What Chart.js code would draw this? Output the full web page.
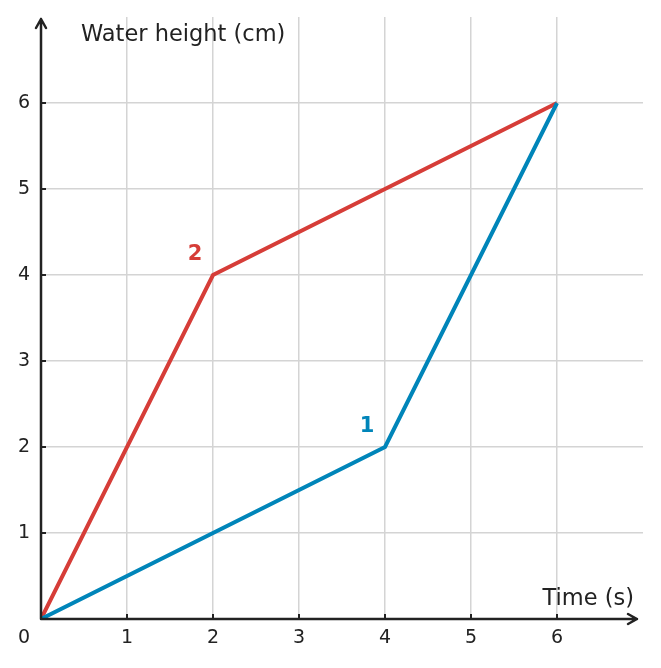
<!DOCTYPE html>
<html lang="en">
  <head>
    <meta charset="UTF-8" />
    <title>Water height over time</title>
    <script src="https://cdn.jsdelivr.net/npm/chart.js"></script>
    <style>
      body { margin: 0; background: #fff; }
      #wrap { width: 661px; height: 668px; }
    </style>
  </head>
  <body>
    <div id="wrap"><canvas id="waterChart" width="661" height="668"></canvas></div>
    <script>
      // data
      const vessel1Time = [0, 4, 6];
      const vessel1Height = [0, 2, 6];
      const vessel2Time = [0, 2, 6];
      const vessel2Height = [0, 4, 6];
      const tickValues = [1, 2, 3, 4, 5, 6];
      const seriesNames = ['1', '2'];
      const labelSpots = [[3.79, 2.24], [1.79, 4.24]];

      const RED = '#d63d38';
      const BLUE = '#0085b9';
      const INK = '#222222';
      const FONT = 'DejaVu Sans, sans-serif';

      const toPoints = (xs, ys) => xs.map((x, i) => ({ x: x, y: ys[i] }));

      const axesPlugin = {
        id: 'axes',
        afterDatasetsDraw(chart) {
          const { ctx, chartArea, scales } = chart;
          const x0 = scales.x.getPixelForValue(0);
          const y0 = scales.y.getPixelForValue(0);
          ctx.save();
          ctx.strokeStyle = INK;
          ctx.lineWidth = 2.5;
          ctx.lineCap = 'round';
          ctx.lineJoin = 'round';
          // y axis + arrow
          ctx.beginPath();
          ctx.moveTo(x0, y0);
          ctx.lineTo(x0, chartArea.top + 2);
          ctx.moveTo(x0 - 5, chartArea.top + 11);
          ctx.lineTo(x0, chartArea.top + 2);
          ctx.lineTo(x0 + 5, chartArea.top + 11);
          // x axis + arrow
          const xEnd = chartArea.right - 6;
          ctx.moveTo(x0, y0);
          ctx.lineTo(xEnd, y0);
          ctx.moveTo(xEnd - 9, y0 - 5);
          ctx.lineTo(xEnd, y0);
          ctx.lineTo(xEnd - 9, y0 + 5);
          ctx.stroke();
          // small inward ticks
          ctx.lineWidth = 2;
          ctx.lineCap = 'butt';
          ctx.beginPath();
          tickValues.forEach((v) => {
            const px = scales.x.getPixelForValue(v);
            ctx.moveTo(px, y0);
            ctx.lineTo(px, y0 - 5);
            const py = scales.y.getPixelForValue(v);
            ctx.moveTo(x0, py);
            ctx.lineTo(x0 + 5, py);
          });
          ctx.stroke();

          ctx.fillStyle = INK;
          ctx.font = '22.5px ' + FONT;
          ctx.textBaseline = 'middle';
          ctx.textAlign = 'left';
          ctx.fillText('Water height (cm)', 81, 35);
          ctx.textAlign = 'right';
          ctx.fillText('Time (s)', 634, 599);
          ctx.font = '19px ' + FONT;
          ctx.textAlign = 'center';
          ctx.fillText('0', 24, 638);

          // series labels
          ctx.font = 'bold 21px ' + FONT;
          [BLUE, RED].forEach((c, i) => {
            ctx.fillStyle = c;
            ctx.fillText(
              seriesNames[i],
              scales.x.getPixelForValue(labelSpots[i][0]),
              scales.y.getPixelForValue(labelSpots[i][1])
            );
          });
          ctx.restore();
        },
      };

      const gridColor = (c) =>
        c.tick && c.tick.value > 0 && c.tick.value < 7 ? '#d4d4d4' : 'rgba(0,0,0,0)';

      new Chart(document.getElementById('waterChart'), {
        type: 'scatter',
        data: {
          datasets: [
            {
              label: seriesNames[0],
              data: toPoints(vessel1Time, vessel1Height),
              showLine: true,
              borderColor: BLUE,
              borderWidth: 4,
              pointRadius: 0,
            },
            {
              label: seriesNames[1],
              data: toPoints(vessel2Time, vessel2Height),
              showLine: true,
              borderColor: RED,
              borderWidth: 4,
              pointRadius: 0,
            },
          ],
        },
        options: {
          responsive: false,
          animation: false,
          layout: { padding: { left: 0, right: 18, top: 17, bottom: 0 } },
          plugins: { legend: { display: false }, tooltip: { enabled: false } },
          scales: {
            x: {
              type: 'linear',
              min: 0,
              max: 7,
              border: { display: false },
              grid: { color: gridColor, lineWidth: 1.5, drawTicks: false },
              afterBuildTicks: (s) => { s.ticks = [0, ...tickValues, 7].map((v) => ({ value: v })); },
              ticks: {
                padding: 8,
                color: INK,
                font: { family: FONT, size: 19 },
                callback: (v) => (tickValues.includes(v) ? String(v) : ''),
              },
              afterFit: (s) => { s.height = 49; s.paddingLeft = 0; s.paddingRight = 0; },
            },
            y: {
              type: 'linear',
              min: 0,
              max: 7,
              border: { display: false },
              grid: { color: gridColor, lineWidth: 1.5, drawTicks: false },
              afterBuildTicks: (s) => { s.ticks = [0, ...tickValues, 7].map((v) => ({ value: v })); },
              ticks: {
                padding: 11,
                color: INK,
                font: { family: FONT, size: 19 },
                callback: (v) => (tickValues.includes(v) ? String(v) : ''),
              },
              afterFit: (s) => { s.width = 41; s.paddingTop = 0; s.paddingBottom = 0; },
            },
          },
        },
        plugins: [axesPlugin],
      });
    </script>
  </body>
</html>
